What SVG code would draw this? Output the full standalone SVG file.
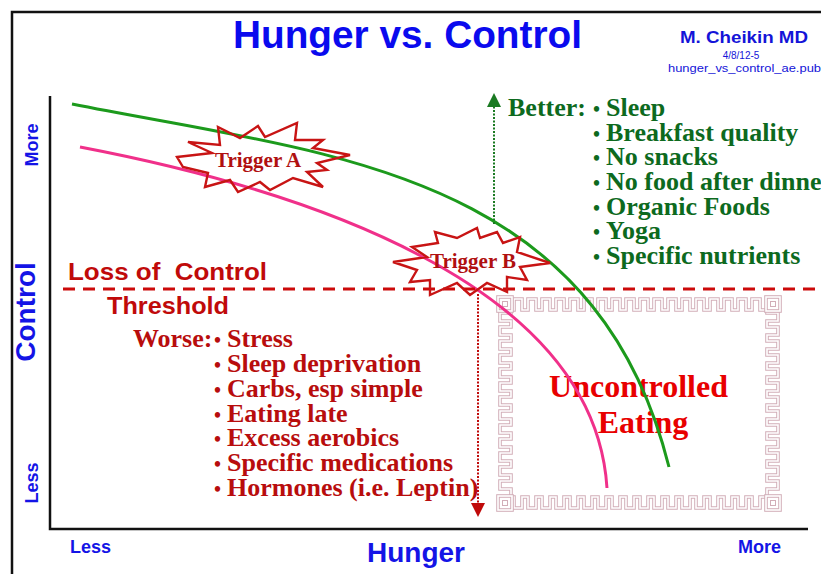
<svg xmlns="http://www.w3.org/2000/svg" width="821" height="574" viewBox="0 0 821 574">
<style>
.ax{font-family:"Liberation Sans",Arial,sans-serif;font-weight:bold;fill:#1414e6}
.tm{font-family:"Liberation Serif","Times New Roman",serif;font-weight:bold}
.grn{fill:#0d6a1e}
.wr{fill:#b80d0d}
.bul{font-size:20px}
.it{font-size:26px}
.mq{fill:none;stroke:#d2aeb8;stroke-width:3.6}
.mqw{fill:none;stroke:#ffffff;stroke-width:1.6}
.star{fill:none;stroke:#c81414;stroke-width:2.4;stroke-linejoin:miter}
</style>
<defs>
<path id="mtop" d="M512 310 h2 v-11h8v11h6 v-11h8v11h6 v-11h8v11h6 v-11h8v11h6 v-11h8v11h6 v-11h8v11h6 v-11h8v11h6 v-11h8v11h6 v-11h8v11h6 v-11h8v11h6 v-11h8v11h6 v-11h8v11h6 v-11h8v11h6 v-11h8v11h6 v-11h8v11h6 v-11h8v11h6 v-11h8v11h6 v-11h8v11h6"/>
<path id="mleft" d="M511 312 v1 h-11v8h11v6 h-11v8h11v6 h-11v8h11v6 h-11v8h11v6 h-11v8h11v6 h-11v8h11v6 h-11v8h11v6 h-11v8h11v6 h-11v8h11v6 h-11v8h11v6 h-11v8h11v6 h-11v8h11v6 h-11v8h11v6"/>
<marker id="ag" viewBox="0 0 10 10" refX="5" refY="5" markerWidth="14" markerHeight="14" markerUnits="userSpaceOnUse" orient="auto"><path d="M0 0 L10 5 L0 10 z" fill="#1a7a22"/></marker>
<marker id="ar" viewBox="0 0 10 10" refX="5" refY="5" markerWidth="14" markerHeight="14" markerUnits="userSpaceOnUse" orient="auto"><path d="M0 0 L10 5 L0 10 z" fill="#c00a0a"/></marker>
</defs>
<rect width="821" height="574" fill="#ffffff"/>
<path d="M12 574 V12 H821" fill="none" stroke="#111" stroke-width="2.5"/>

<g id="title">
<text x="233" y="48" class="ax" font-size="38" textLength="349" lengthAdjust="spacingAndGlyphs" style="fill:#0a0aee">Hunger vs. Control</text>
<text x="680" y="43" class="ax" font-size="16" textLength="128" lengthAdjust="spacingAndGlyphs" style="fill:#1414d8">M. Cheikin MD</text>
<text x="741" y="59" font-family="Liberation Sans,Arial,sans-serif" font-size="10" text-anchor="middle" fill="#1414d8">4/8/12-5</text>
<text x="668" y="72" font-family="Liberation Sans,Arial,sans-serif" font-size="11" fill="#1414d8" textLength="153" lengthAdjust="spacingAndGlyphs">hunger_vs_control_ae.pub</text>
</g>

<g id="axes">
<path d="M50 96 V529 H808" fill="none" stroke="#111" stroke-width="2.5"/>
<text class="ax" font-size="18" text-anchor="middle" transform="translate(38,145) rotate(-90)">More</text>
<text class="ax" font-size="28" text-anchor="middle" transform="translate(35,312) rotate(-90)">Control</text>
<text class="ax" font-size="18" text-anchor="middle" transform="translate(38,483) rotate(-90)">Less</text>
<text class="ax" font-size="18" x="70" y="553">Less</text>
<text class="ax" font-size="28" x="367" y="562">Hunger</text>
<text class="ax" font-size="18" x="738" y="553">More</text>
</g>

<g id="uncontrolled">
<use href="#mtop" class="mq"/><use href="#mtop" class="mqw"/>
<use href="#mtop" class="mq" transform="translate(0,807) scale(1,-1)"/><use href="#mtop" class="mqw" transform="translate(0,807) scale(1,-1)"/>
<use href="#mleft" class="mq"/><use href="#mleft" class="mqw"/>
<use href="#mleft" class="mq" transform="translate(1278,0) scale(-1,1)"/><use href="#mleft" class="mqw" transform="translate(1278,0) scale(-1,1)"/>
<g>
<rect x="498" y="297" width="14" height="14" class="mq"/><rect x="498" y="297" width="14" height="14" class="mqw"/>
<rect x="766" y="297" width="14" height="14" class="mq"/><rect x="766" y="297" width="14" height="14" class="mqw"/>
<rect x="498" y="496" width="14" height="14" class="mq"/><rect x="498" y="496" width="14" height="14" class="mqw"/>
<rect x="766" y="496" width="14" height="14" class="mq"/><rect x="766" y="496" width="14" height="14" class="mqw"/>
<rect x="502.5" y="301.5" width="5" height="5" fill="none" stroke="#d2aeb8" stroke-width="1"/>
<rect x="770.5" y="301.5" width="5" height="5" fill="none" stroke="#d2aeb8" stroke-width="1"/>
<rect x="502.5" y="500.5" width="5" height="5" fill="none" stroke="#d2aeb8" stroke-width="1"/>
<rect x="770.5" y="500.5" width="5" height="5" fill="none" stroke="#d2aeb8" stroke-width="1"/>
</g>
<text class="tm" font-size="32" x="638.5" y="397" text-anchor="middle" fill="#e80000">Uncontrolled</text>
<text class="tm" font-size="32" x="643" y="433" text-anchor="middle" fill="#e80000">Eating</text>
</g>

<g id="connectors">
<path id="green-curve" d="M72 104 C322 154 594 167 669 467" fill="none" stroke="#1c9a1c" stroke-width="3"/>
<path id="pink-curve" d="M80 147 C300 189 594 282 607 488" fill="none" stroke="#f0308a" stroke-width="3"/>
<path id="threshold" d="M63 289 H821" stroke="#cc0a0a" stroke-width="3" stroke-dasharray="12 8"/>
<path id="better-arrow" d="M494 224 V100" stroke="#1a7a22" stroke-width="2" stroke-dasharray="2 1.5" marker-end="url(#ag)"/>
<path id="worse-arrow" d="M478 294 V510" stroke="#c00a0a" stroke-width="2" stroke-dasharray="2 1.5" marker-end="url(#ar)"/>
</g>

<g id="threshold-label">
<text class="ax" font-size="24" x="68" y="280" textLength="199" lengthAdjust="spacingAndGlyphs" style="fill:#c00a0a">Loss of&#160; Control</text>
<text class="ax" font-size="24" x="107" y="314" textLength="122" lengthAdjust="spacingAndGlyphs" style="fill:#c00a0a">Threshold</text>
</g>

<g id="trigger-a">
<polygon class="star" points="177,157 212,153 188,142 220,145 218,127 240,138 258,126 265,137 297,123 295,140 323,140 313,148 350,155 317,163 327,170 307,172 323,187 293,178 270,190 260,182 238,192 230,180 205,187 208,173 183,167"/>
<text class="tm" font-size="21" x="215" y="167" fill="#b01010">Trigger A</text>
</g>

<g id="trigger-b">
<polygon class="star" points="393,262 427,257 412,247 438,243 435,232 457,238 477,228 480,238 497,232 503,243 520,237 517,252 550,263 520,267 527,280 507,277 507,292 487,283 470,295 457,283 430,295 430,280 410,282 417,270"/>
<text class="tm" font-size="21" x="430" y="268" fill="#b01010">Trigger B</text>
</g>

<g id="better" class="tm grn">
<text class="it" y="116"><tspan x="508">Better:</tspan><tspan class="bul" x="593">•</tspan><tspan x="606">Sleep</tspan></text>
<text class="it" y="141"><tspan class="bul" x="593">•</tspan><tspan x="606">Breakfast quality</tspan></text>
<text class="it" y="165"><tspan class="bul" x="593">•</tspan><tspan x="606">No snacks</tspan></text>
<text class="it" y="190"><tspan class="bul" x="593">•</tspan><tspan x="606">No food after dinner</tspan></text>
<text class="it" y="215"><tspan class="bul" x="593">•</tspan><tspan x="606">Organic Foods</tspan></text>
<text class="it" y="239"><tspan class="bul" x="593">•</tspan><tspan x="606">Yoga</tspan></text>
<text class="it" y="264"><tspan class="bul" x="593">•</tspan><tspan x="606">Specific nutrients</tspan></text>
</g>

<g id="worse" class="tm wr">
<text class="it" y="347"><tspan x="133">Worse:</tspan><tspan class="bul" x="214">•</tspan><tspan x="227">Stress</tspan></text>
<text class="it" y="372"><tspan class="bul" x="214">•</tspan><tspan x="227">Sleep deprivation</tspan></text>
<text class="it" y="397"><tspan class="bul" x="214">•</tspan><tspan x="227">Carbs, esp simple</tspan></text>
<text class="it" y="422"><tspan class="bul" x="214">•</tspan><tspan x="227">Eating late</tspan></text>
<text class="it" y="446"><tspan class="bul" x="214">•</tspan><tspan x="227">Excess aerobics</tspan></text>
<text class="it" y="471"><tspan class="bul" x="214">•</tspan><tspan x="227">Specific medications</tspan></text>
<text class="it" y="496"><tspan class="bul" x="214">•</tspan><tspan x="227">Hormones (i.e. Leptin)</tspan></text>
</g>
</svg>
